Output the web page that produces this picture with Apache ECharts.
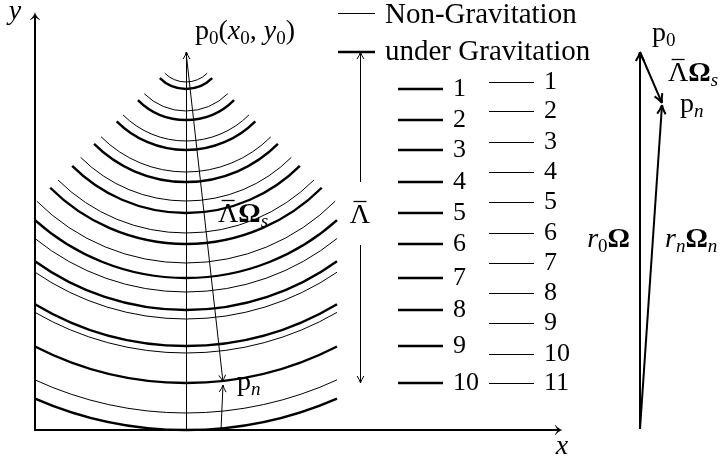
<!DOCTYPE html>
<html lang="en">
  <head>
    <meta charset="UTF-8" />
    <title>Non-Gravitation / under Gravitation</title>
    <script src="https://cdn.jsdelivr.net/npm/echarts@6/dist/echarts.min.js"></script>
    <style>
      html, body { margin: 0; padding: 0; background: #fff; }
      #main { width: 726px; height: 458px; }
    </style>
  </head>
  <body>
    <div id="main"></div>
    <script>
      // figure units: origin at the axes corner, one unit per pixel
      var p0 = [151, 378];
      var thickRadii = [37, 68, 98, 130, 161, 192, 226, 258, 294, 331, 378];
      var thinRadii = [30, 59, 89, 120, 149, 181, 211, 240, 267, 301, 361];
      var arcHalfAngle = 45; // degrees either side of straight down
      var arcHalfWidth = 151; // arcs stop at the y axis and the same distance right

      var thickKeyLabels = ["1", "2", "3", "4", "5", "6", "7", "8", "9", "10"];
      var thickKeyY = thickRadii.slice(0, 10).map(function (r) { return p0[1] - r; });
      var thinKeyLabels = ["1", "2", "3", "4", "5", "6", "7", "8", "9", "10", "11"];
      var thinKeyY = [348, 319, 288, 258, 228, 197, 167, 137, 107, 76, 47];

      var pn = [188, 48];
      var vecO = [605, 1];
      var vecP0 = [605, 378];
      var vecPn = [627, 327];

      var thinArrows = [
        [151, 0, 151, 378],
        [p0[0], p0[1], pn[0], pn[1]],
        [186, 0, pn[0], pn[1] - 3],
        [325, 248, 325, 378],
        [325, 185, 325, 47]
      ];
      var thickArrows = [
        [vecO[0], vecO[1], vecP0[0], vecP0[1]],
        [vecP0[0], vecP0[1], vecPn[0], vecPn[1]],
        [vecO[0], vecO[1], vecPn[0], vecPn[1] - 2]
      ];

      // [x, y, rich text, align, bar over the leading Λ]
      var labels = [
        [160, 398, "{r|p}{s|0}{r|(}{i|x}{s|0}{r|, }{i|y}{s|0}{r|)}", "left", false],
        [183, 215, "{r|Λ}{b|Ω}{si|s}", "left", true],
        [202, 47, "{r|p}{si|n}", "left", false],
        [325, 214, "{r|Λ}", "center", true],
        [350, 415, "{h|Non-Gravitation}", "left", false],
        [350, 378, "{h|under Gravitation}", "left", false],
        [527, -17, "{i|x}", "center", false],
        [-20, 418, "{i|y}", "center", false],
        [617, 396, "{r|p}{s|0}", "left", false],
        [633, 356, "{r|Λ}{b|Ω}{si|s}", "left", true],
        [645, 325, "{r|p}{si|n}", "left", false],
        [595, 190, "{i|r}{s|0}{b|Ω}", "right", false],
        [630, 190, "{i|r}{si|n}{b|Ω}{si|n}", "left", false]
      ];

      var serif = "'Liberation Serif', 'Times New Roman', serif";
      var rich = {
        r: { fontFamily: serif, fontSize: 28, lineHeight: 33, fill: "#000" },
        h: { fontFamily: serif, fontSize: 29, lineHeight: 33, fill: "#000" },
        i: { fontFamily: serif, fontSize: 28, lineHeight: 33, fontStyle: "italic", fill: "#000" },
        b: { fontFamily: serif, fontSize: 28, lineHeight: 33, fontWeight: "bold", fill: "#000" },
        s: { fontFamily: serif, fontSize: 19, lineHeight: 17, verticalAlign: "bottom", fill: "#000" },
        si: { fontFamily: serif, fontSize: 19, lineHeight: 17, verticalAlign: "bottom", fontStyle: "italic", fill: "#000" },
        d: { fontFamily: serif, fontSize: 26, lineHeight: 30, fill: "#000" }
      };

      var measure = document.createElement("canvas").getContext("2d");
      measure.font = "28px " + serif;
      var lambdaWidth = measure.measureText("Λ").width;

      var arrowSymbol =
        "path://M5,0 Q5.8,4.5 10,7.4 L9.6,8 Q6.2,5.8 5,5.4 Q3.8,5.8 0.4,8 L0,7.4 Q4.2,4.5 5,0 Z";

      // keep 1px horizontal/vertical strokes on the pixel grid
      function crisp(v, width) {
        return width % 2 === 1 ? Math.round(v - 0.5) + 0.5 : v;
      }

      function arcItem(width) {
        return function (params, api) {
          var c = api.coord(p0);
          var r = api.size([api.value(0), 0])[0];
          var w = api.size([arcHalfWidth, 0])[0];
          var half = Math.min((arcHalfAngle * Math.PI) / 180, Math.asin(Math.min(1, w / r)));
          return {
            type: "arc",
            shape: { cx: c[0], cy: c[1], r: r, startAngle: Math.PI / 2 - half, endAngle: Math.PI / 2 + half, clockwise: true },
            style: { stroke: "#000", fill: null, lineWidth: width }
          };
        };
      }

      function segItem(width) {
        return function (params, api) {
          var a = api.coord([api.value(0), api.value(1)]);
          var b = api.coord([api.value(2), api.value(3)]);
          var y = crisp(a[1], width);
          return {
            type: "line",
            shape: { x1: a[0], y1: y, x2: b[0], y2: y },
            style: { stroke: "#000", lineWidth: width }
          };
        };
      }

      function arrowItem(width, len, half) {
        return function (params, api) {
          var a = api.coord([api.value(0), api.value(1)]);
          var b = api.coord([api.value(2), api.value(3)]);
          if (a[0] === b[0]) {
            a[0] = b[0] = crisp(a[0], width);
          }
          var dx = b[0] - a[0], dy = b[1] - a[1];
          var d = Math.sqrt(dx * dx + dy * dy);
          var ux = dx / d, uy = dy / d, nx = -uy, ny = ux;
          var barbs = [1, -1].map(function (s) {
            return {
              type: "bezierCurve",
              shape: {
                x1: b[0] - len * ux + s * half * nx,
                y1: b[1] - len * uy + s * half * ny,
                cpx1: b[0] - 0.45 * len * ux + s * 0.25 * half * nx,
                cpy1: b[1] - 0.45 * len * uy + s * 0.25 * half * ny,
                x2: b[0],
                y2: b[1]
              },
              style: { stroke: "#000", fill: null, lineWidth: width }
            };
          });
          return {
            type: "group",
            children: [
              {
                type: "line",
                shape: { x1: a[0], y1: a[1], x2: b[0] - 0.5 * width * ux, y2: b[1] - 0.5 * width * uy },
                style: { stroke: "#000", lineWidth: width }
              }
            ].concat(barbs)
          };
        };
      }

      function labelItem(list) {
        return function (params, api) {
          var it = list[params.dataIndex];
          var p = api.coord([it[0], it[1]]);
          var children = [
            {
              type: "text",
              style: { text: it[2], x: p[0], y: p[1], align: it[3], verticalAlign: "middle", rich: rich, fill: "#000" }
            }
          ];
          if (it[4]) {
            var x0 = it[3] === "center" ? p[0] - lambdaWidth / 2 : p[0];
            children.push({
              type: "line",
              shape: { x1: x0 + 0.18 * lambdaWidth, y1: p[1] - 14.5, x2: x0 + 0.82 * lambdaWidth, y2: p[1] - 14.5 },
              style: { stroke: "#000", lineWidth: 1.3 }
            });
          }
          return { type: "group", children: children };
        };
      }

      var keySegments = [[303, 417, 340, 417]];
      var keySegmentsThick = [[303, 378, 340, 378]];
      thickKeyY.forEach(function (y) { keySegmentsThick.push([363, y, 408, y]); });
      thinKeyY.forEach(function (y) { keySegments.push([454, y, 499, y]); });

      var digitLabels = [];
      thickKeyY.forEach(function (y, i) { digitLabels.push([418, y, "{d|" + thickKeyLabels[i] + "}", "left", false]); });
      thinKeyY.forEach(function (y, i) { digitLabels.push([509, y, "{d|" + thinKeyLabels[i] + "}", "left", false]); });

      var chart = echarts.init(document.getElementById("main"));
      var axisCommon = {
        type: "value",
        min: 0,
        axisLine: {
          show: true,
          onZero: false,
          symbol: ["none", arrowSymbol],
          symbolSize: [10, 8],
          lineStyle: { color: "#000", width: 2 }
        },
        axisTick: { show: false },
        axisLabel: { show: false },
        splitLine: { show: false }
      };
      var option = {
        animation: false,
        backgroundColor: "#fff",
        grid: { left: 35, right: 167, top: 16, bottom: 28 },
        xAxis: Object.assign({}, axisCommon, { max: 524 }),
        yAxis: Object.assign({}, axisCommon, { max: 414 }),
        series: [
          { type: "custom", name: "thick arcs", renderItem: arcItem(2.4), data: thickRadii.map(function (r) { return [r]; }) },
          { type: "custom", name: "thin arcs", renderItem: arcItem(1), data: thinRadii.map(function (r) { return [r]; }) },
          { type: "custom", name: "keys", renderItem: segItem(1), data: keySegments },
          { type: "custom", name: "keys thick", renderItem: segItem(2.4), data: keySegmentsThick },
          { type: "custom", name: "thin arrows", renderItem: arrowItem(1, 7, 3.4), data: thinArrows },
          { type: "custom", name: "thick arrows", renderItem: arrowItem(2, 9, 4.2), data: thickArrows },
          { type: "custom", name: "labels", renderItem: labelItem(labels), data: labels.map(function (l) { return [l[0], l[1]]; }) },
          { type: "custom", name: "digits", renderItem: labelItem(digitLabels), data: digitLabels.map(function (l) { return [l[0], l[1]]; }) }
        ]
      };
      chart.setOption(option);
    </script>
  </body>
</html>
